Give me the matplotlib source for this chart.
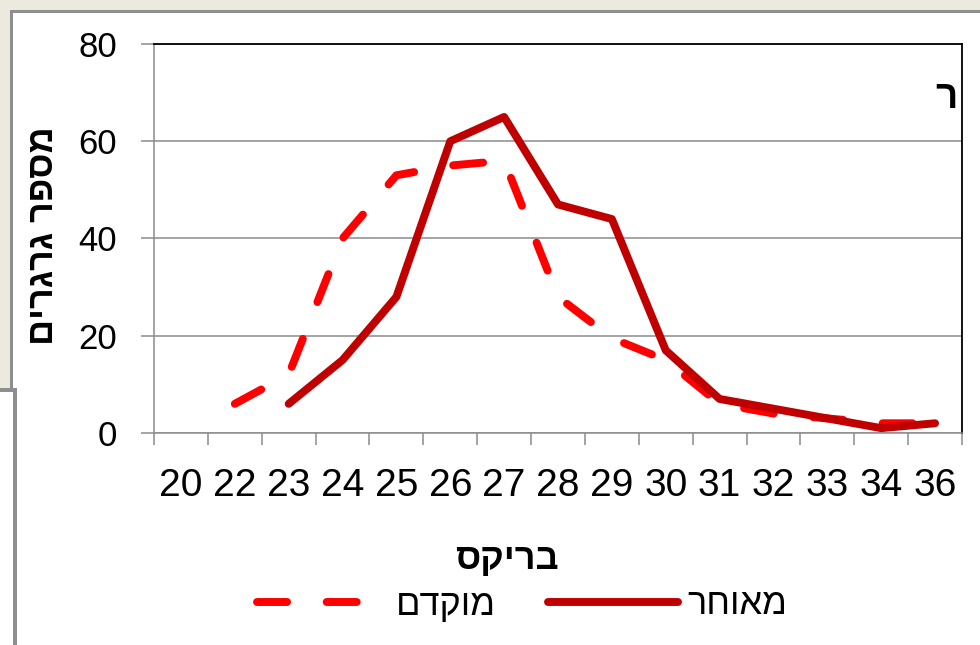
import numpy as np
import matplotlib
matplotlib.use("Agg")
import matplotlib.pyplot as plt
from matplotlib.patches import Rectangle

plt.rcParams['font.family'] = ['Liberation Sans', 'DejaVu Sans']

# Brix categories and grain counts for the two harvest groups
categories = ['20', '22', '23', '24', '25', '26', '27', '28', '29', '30',
              '31', '32', '33', '34', '36']
early = [np.nan, 6, 12, 40, 53, 55, 56, 28, 19.5, 15, 6, 4, 3, 2, 2]
late = [np.nan, np.nan, 6, 15, 28, 60, 65, 47, 44, 17, 7, 5, 3, 1, 2]
yticks = [0, 20, 40, 60, 80]

label_early = 'מוקדם'
label_late = 'מאוחר'
xlabel = 'בריקס'
ylabel = 'מספר גרגרים'
title = 'ר'


def rtl(s):
    # matplotlib lays text out left-to-right; reverse Hebrew for display
    return s[::-1]


W, H = 980, 645
fig = plt.figure(figsize=(W / 100, H / 100), dpi=100, facecolor='white')


def fx(px):
    return px / W


def fy(py):
    return 1 - py / H


def frame_rect(x0, y0, x1, y1, color):
    fig.add_artist(Rectangle((fx(x0), fy(y1)), fx(x1) - fx(x0), fy(y0) - fy(y1),
                             transform=fig.transFigure, facecolor=color,
                             edgecolor='none', zorder=0))


# window frame around the chart
beige = '#ECE9DE'
frame_gray = '#8E8E8E'
frame_rect(0, 0, W, 9.5, beige)
frame_rect(0, 0, 9.5, 388, beige)
frame_rect(9.5, 9.5, W, 13, frame_gray)
frame_rect(9.5, 9.5, 13, 390, frame_gray)
frame_rect(0, 388, 16.5, 392, frame_gray)
frame_rect(12.8, 388, 16.5, H, frame_gray)

ax = fig.add_axes([fx(154), fy(433), fx(962) - fx(154), fy(44) - fy(433)])
ax.set_facecolor('white')

x = np.arange(len(categories))
ax.plot(x, early, color='#FF0000', lw=5.7, dashes=(3.8, 5.0),
        dash_capstyle='round', solid_joinstyle='round', label=rtl(label_early),
        zorder=3)
ax.plot(x, late, color='#C00000', lw=5.7, solid_capstyle='round',
        solid_joinstyle='round', label=rtl(label_late), zorder=4)

ax.set_xlim(-0.5, len(categories) - 0.5)
ax.set_ylim(0, 80)
ax.set_yticks(yticks)
ax.set_xticks(x)
ax.set_xticklabels(categories)
ax.set_xticks(np.arange(-0.5, len(categories), 1), minor=True)

axis_gray = '#8C8C8C'
ax.yaxis.grid(True, color=axis_gray, lw=1.1)
ax.set_axisbelow(True)

ax.tick_params(axis='y', which='major', direction='out', length=9.4, width=1.1,
               color=axis_gray, pad=17, labelsize=25, labelcolor='black')
ax.tick_params(axis='x', which='major', length=0, pad=25, labelsize=28,
               labelcolor='black')
ax.tick_params(axis='x', which='minor', direction='out', length=8.6, width=1.1,
               color=axis_gray)

for side in ('left', 'bottom'):
    ax.spines[side].set_color(axis_gray)
    ax.spines[side].set_linewidth(1.1)
for side in ('top', 'right'):
    ax.spines[side].set_color('black')
    ax.spines[side].set_linewidth(1.3)

fig.text(fx(44), fy(236), rtl(ylabel), rotation=90, ha='center', va='center',
         fontsize=26, fontweight='bold')
fig.text(fx(507), fy(559), rtl(xlabel), ha='center', va='center',
         fontsize=26, fontweight='bold')
fig.text(fx(958), fy(80), title, ha='right', va='top', fontsize=28,
         fontweight='bold')

ax.legend(loc='center', bbox_to_anchor=(fx(522), fy(605)),
          bbox_transform=fig.transFigure, ncol=2, frameon=False, fontsize=26,
          handlelength=3.6, handletextpad=0.25, columnspacing=1.45,
          borderaxespad=0, borderpad=0)

fig.savefig('out.png', dpi=100)
